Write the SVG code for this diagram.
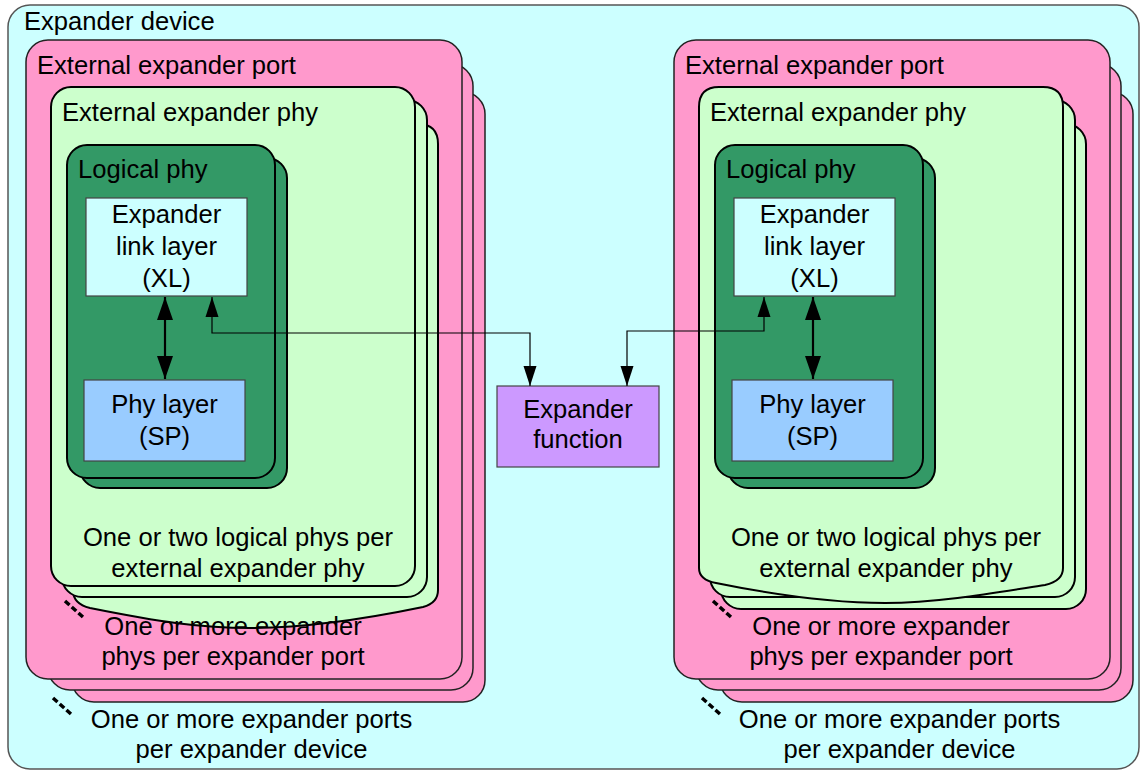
<svg xmlns="http://www.w3.org/2000/svg" width="1141" height="770" viewBox="0 0 1141 770">
<style>
text{font-family:"Liberation Sans",Arial,sans-serif;font-size:25.6px;fill:#000}
.c{text-anchor:middle}
.dev{fill:#ccffff;stroke:#555;stroke-width:1.5}
.port{fill:#ff99cc;stroke:#222;stroke-width:1.5}
.phy{fill:#ccffcc;stroke:#000;stroke-width:2}
.log{fill:#339966;stroke:#000;stroke-width:2}
.xl{fill:#ccffff;stroke:#444;stroke-width:1.2}
.sp{fill:#99ccff;stroke:#444;stroke-width:1.2}
.fn{fill:#cc99ff;stroke:#444;stroke-width:1.2}
.con{fill:none;stroke:#000;stroke-width:1.2}
.dbl{fill:none;stroke:#000;stroke-width:2.2}
.dots{stroke:#000;stroke-width:3.5;stroke-dasharray:6 3}
</style>
<defs>
<marker id="a" markerUnits="userSpaceOnUse" markerWidth="20" markerHeight="14" refX="20" refY="7" orient="auto-start-reverse"><path d="M0,0.5 L20,7 L0,13.5 z" fill="#000"/></marker>
<marker id="b" markerUnits="userSpaceOnUse" markerWidth="23" markerHeight="17" refX="23" refY="8.5" orient="auto-start-reverse"><path d="M0,0.5 L23,8.5 L0,16.5 z" fill="#000"/></marker>
</defs>
<g id="device">
<rect class="dev" x="8" y="5" width="1131" height="764" rx="22"/>
<text x="24" y="30">Expander device</text>
</g>
<g id="port-left">
<rect class="port" x="72" y="92" width="413" height="610" rx="22"/>
<rect class="port" x="48" y="64" width="425" height="626" rx="22"/>
<rect class="port" x="26" y="40" width="436" height="639" rx="22"/>
<text x="37" y="74">External expander port</text>
</g>
<g id="phy-left">
<path class="phy" d="M73 590 L73 144 Q73 124 93 124 L418 124 Q438 124 438 144 L438 590 Q438 603 423 607 C370 618 310 628 250 628 C200 628 160 622 90 608 Q73 604 73 590 Z"/>
<rect class="phy" x="62" y="100" width="365" height="497" rx="20"/>
<rect class="phy" x="51" y="87" width="364" height="499" rx="20"/>
<text x="62" y="121">External expander phy</text>
</g>
<g id="logical-left">
<rect class="log" x="80" y="158" width="207" height="330" rx="20"/>
<rect class="log" x="67" y="145" width="208" height="333" rx="20"/>
<text x="78" y="178">Logical phy</text>
</g>
<g id="xl-left">
<rect class="xl" x="86" y="198" width="161" height="98"/>
<text class="c" x="166.5" y="223">Expander</text>
<text class="c" x="166.5" y="255">link layer</text>
<text class="c" x="166.5" y="287">(XL)</text>
</g>
<g id="sp-left">
<rect class="sp" x="84" y="380" width="161" height="81"/>
<text class="c" x="164.5" y="413">Phy layer</text>
<text class="c" x="164.5" y="445">(SP)</text>
</g>
<g id="notes-left">
<text class="c" x="238" y="546">One or two logical phys per</text>
<text class="c" x="238" y="577">external expander phy</text>
<text class="c" x="233" y="635">One or more expander</text>
<text class="c" x="233" y="665">phys per expander port</text>
<text class="c" x="251.5" y="728">One or more expander ports</text>
<text class="c" x="251.5" y="758">per expander device</text>
<line class="dots" x1="65" y1="601" x2="83" y2="617"/>
<line class="dots" x1="53" y1="698" x2="71" y2="714"/>
</g>
<g id="port-right">
<rect class="port" x="720" y="92" width="413" height="610" rx="22"/>
<rect class="port" x="696" y="64" width="425" height="626" rx="22"/>
<rect class="port" x="674" y="40" width="436" height="639" rx="22"/>
<text x="685" y="74">External expander port</text>
</g>
<g id="phy-right">
<rect class="phy" x="721" y="124" width="365" height="485" rx="20"/>
<rect class="phy" x="710" y="100" width="365" height="497" rx="20"/>
<path class="phy" d="M699 568 L699 107 Q699 87 719 87 L1043 87 Q1063 87 1063 107 L1063 568 Q1063 581 1045 585 C1000 592 940 603 885 603 C830 603 770 594 716 583 Q699 580 699 568 Z"/>
<text x="710" y="121">External expander phy</text>
</g>
<g id="logical-right">
<rect class="log" x="728" y="158" width="207" height="330" rx="20"/>
<rect class="log" x="715" y="145" width="208" height="333" rx="20"/>
<text x="726" y="178">Logical phy</text>
</g>
<g id="xl-right">
<rect class="xl" x="734" y="198" width="161" height="98"/>
<text class="c" x="814.5" y="223">Expander</text>
<text class="c" x="814.5" y="255">link layer</text>
<text class="c" x="814.5" y="287">(XL)</text>
</g>
<g id="sp-right">
<rect class="sp" x="732" y="380" width="161" height="81"/>
<text class="c" x="812.5" y="413">Phy layer</text>
<text class="c" x="812.5" y="445">(SP)</text>
</g>
<g id="notes-right">
<text class="c" x="886" y="546">One or two logical phys per</text>
<text class="c" x="886" y="577">external expander phy</text>
<text class="c" x="881" y="635">One or more expander</text>
<text class="c" x="881" y="665">phys per expander port</text>
<text class="c" x="899.5" y="728">One or more expander ports</text>
<text class="c" x="899.5" y="758">per expander device</text>
<line class="dots" x1="713" y1="601" x2="731" y2="617"/>
<line class="dots" x1="702" y1="698" x2="720" y2="714"/>
</g>
<g id="function">
<rect class="fn" x="497" y="386" width="162" height="81"/>
<text class="c" x="578" y="418">Expander</text>
<text class="c" x="578" y="448">function</text>
</g>
<g id="connectors">
<path class="dbl" d="M165 297 L165 379" marker-start="url(#b)" marker-end="url(#b)"/>
<path class="dbl" d="M813 297 L813 379" marker-start="url(#b)" marker-end="url(#b)"/>
<path class="con" d="M530 386 L530 333 L212 333 L212 297" marker-start="url(#a)" marker-end="url(#a)"/>
<path class="con" d="M627 386 L627 331 L764 331 L764 297" marker-start="url(#a)" marker-end="url(#a)"/>
</g>
</svg>
